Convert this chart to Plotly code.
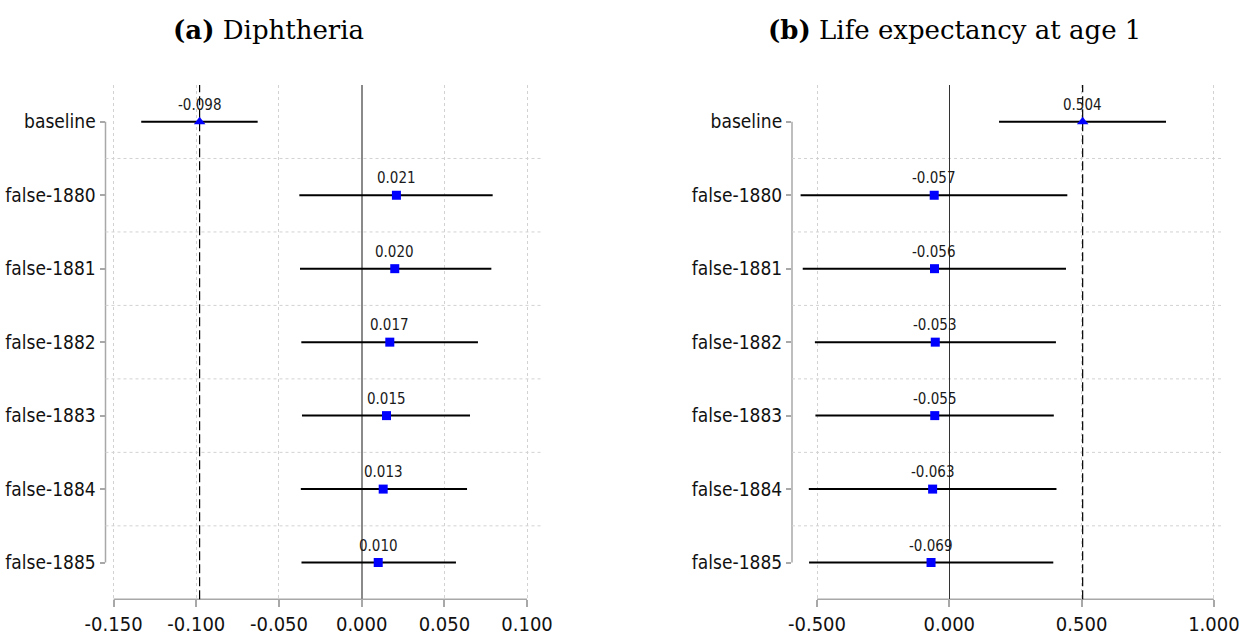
import plotly.graph_objects as go

# ---------------- data ----------------
labels = ["baseline", "false-1880", "false-1881", "false-1882", "false-1883", "false-1884", "false-1885"]

diph_est = [-0.098, 0.021, 0.020, 0.017, 0.015, 0.013, 0.010]
diph_lo = [-0.1333, -0.0377, -0.0373, -0.0365, -0.0361, -0.0368, -0.0364]
diph_hi = [-0.0629, 0.0792, 0.0784, 0.0703, 0.0655, 0.0637, 0.0570]

life_est = [0.504, -0.057, -0.056, -0.053, -0.055, -0.063, -0.069]
life_lo = [0.188, -0.562, -0.554, -0.508, -0.506, -0.531, -0.530]
life_hi = [0.819, 0.446, 0.441, 0.403, 0.395, 0.405, 0.393]

diph_ticks = [-0.15, -0.10, -0.05, 0.0, 0.05, 0.10]
life_ticks = [-0.5, 0.0, 0.5, 1.0]

titles = ["<b>(a)</b> Diphtheria", "<b>(b)</b> Life expectancy at age 1"]

# ---------------- style ----------------
W, H = 1240, 636
NARROW = "Liberation Sans Narrow, Arial Narrow, DejaVu Sans Condensed, sans-serif"
SERIF = "DejaVu Serif, Liberation Serif, serif"
AXIS_GRAY = "#a8a8a8"
GRID_GRAY = "#d2d2d2"

panels = [
    dict(est=diph_est, lo=diph_lo, hi=diph_hi, ticks=diph_ticks,
         xdom=[105.5 / W, 540.8 / W], xrange=[-0.1549, 0.1083],
         zcolor="#8a8a8a", zwidth=1.6, title_x=268 / W),
    dict(est=life_est, lo=life_lo, hi=life_hi, ticks=life_ticks,
         xdom=[792 / W, 1222 / W], xrange=[-0.5945, 1.0306],
         zcolor="#333333", zwidth=1.1, title_x=954 / W),
]

ydom = [1 - 599.3 / H, 1 - 85 / H]
n = len(labels)

fig = go.Figure()
shapes = []
annotations = []

for i, p in enumerate(panels):
    k = "" if i == 0 else str(i + 1)
    xa, ya = "x" + k, "y" + k
    symbols = ["triangle-up"] + ["square"] * (n - 1)
    sizes = [10] + [9] * (n - 1)
    fig.add_trace(go.Scatter(
        x=p["est"], y=labels, xaxis=xa, yaxis=ya, mode="markers",
        marker=dict(color="#0000ff", symbol=symbols, size=sizes, opacity=1,
                    line=dict(width=0)),
        error_x=dict(type="data", symmetric=False,
                     array=[h - e for h, e in zip(p["hi"], p["est"])],
                     arrayminus=[e - l for e, l in zip(p["est"], p["lo"])],
                     color="black", thickness=2, width=0),
        showlegend=False, hoverinfo="skip",
    ))
    # value labels
    for e, lab in zip(p["est"], labels):
        annotations.append(dict(
            x=e, y=lab, xref=xa, yref=ya, text=f"{e:.3f}", showarrow=False,
            yshift=17, font=dict(family=NARROW, size=15, color="#1a1a1a"),
        ))
    # y axis line from first to last category
    shapes.append(dict(type="line", xref=xa + " domain", yref=ya, x0=0, x1=0,
                       y0=0, y1=n - 1, line=dict(color=AXIS_GRAY, width=1.5), layer="below"))
    # x axis line from first to last tick
    shapes.append(dict(type="line", xref=xa, yref=ya + " domain", x0=p["ticks"][0], x1=p["ticks"][-1],
                       y0=0, y1=0, line=dict(color=AXIS_GRAY, width=1.5), layer="below"))
    # horizontal dotted grid lines between categories
    for j in range(n - 1):
        shapes.append(dict(type="line", xref=xa + " domain", yref=ya, x0=0, x1=1,
                           y0=j + 0.5, y1=j + 0.5,
                           line=dict(color=GRID_GRAY, width=1, dash="dot"), layer="below"))
    # dashed reference line at baseline estimate
    shapes.append(dict(type="line", xref=xa, yref=ya + " domain", x0=p["est"][0], x1=p["est"][0],
                       y0=0, y1=1, line=dict(color="black", width=1.2, dash="9px,4px"), layer="below"))
    # panel title
    annotations.append(dict(x=p["title_x"], y=1 - 30 / H, xref="paper", yref="paper",
                            text=titles[i], showarrow=False, xanchor="center", yanchor="middle",
                            font=dict(family=SERIF, size=26, color="black")))

    xaxis = dict(domain=p["xdom"], range=p["xrange"], anchor=ya, automargin=False,
                 tickmode="array", tickvals=p["ticks"],
                 ticktext=[f"{v:.3f}" for v in p["ticks"]],
                 ticks="outside", ticklen=7, tickwidth=1.5, tickcolor=AXIS_GRAY,
                 showline=False, showgrid=True, gridcolor=GRID_GRAY, griddash="dot", gridwidth=1,
                 zeroline=True, zerolinecolor=p["zcolor"], zerolinewidth=p["zwidth"],
                 tickfont=dict(family=NARROW, size=20, color="#111111"))
    yaxis = dict(domain=ydom, anchor=xa, type="category", categoryorder="array",
                 categoryarray=labels, range=[n - 0.5, -0.5], automargin=False,
                 ticks="outside", ticklen=5, tickwidth=1.5, tickcolor=AXIS_GRAY,
                 showline=False, showgrid=False, zeroline=False,
                 tickfont=dict(family=NARROW, size=19, color="#111111"))
    fig.layout["xaxis" + k] = xaxis
    fig.layout["yaxis" + k] = yaxis

fig.update_layout(
    width=W, height=H, margin=dict(l=0, r=0, t=0, b=0, autoexpand=False),
    paper_bgcolor="white", plot_bgcolor="white",
    shapes=shapes, annotations=annotations, showlegend=False,
)

fig.write_html("out.html")
